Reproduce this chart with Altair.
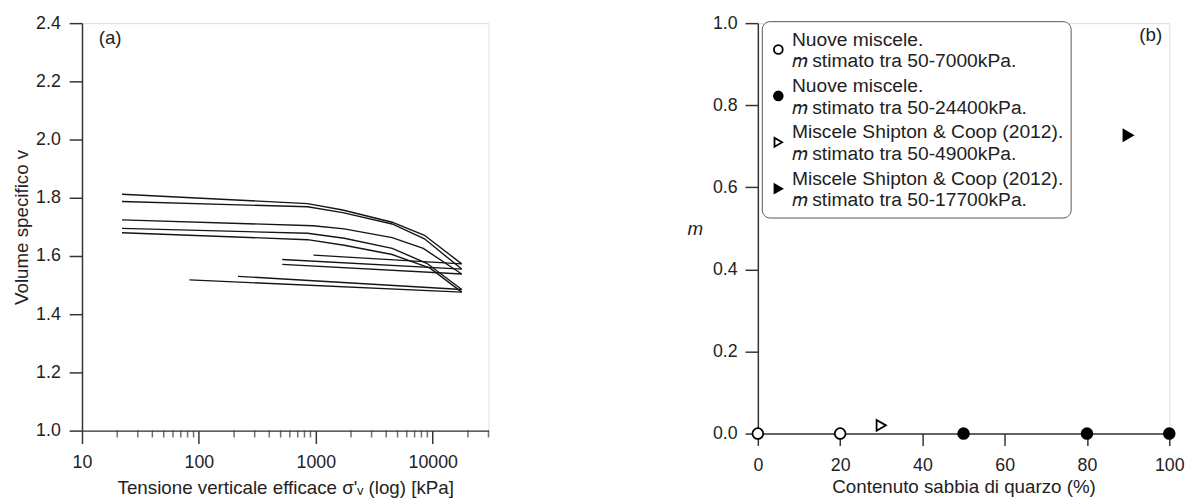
import altair as alt
import pandas as pd

FONT = "Liberation Sans"

# ---------------- Panel (a): compression curves ----------------
curve_A_sigma = [22, 850, 1700, 4500, 8500, 17700]
curve_A_v = [1.812, 1.780, 1.758, 1.716, 1.671, 1.573]
curve_B_sigma = [22, 850, 1700, 4500, 8500, 17700]
curve_B_v = [1.787, 1.769, 1.749, 1.710, 1.659, 1.555]
curve_C_sigma = [22, 950, 1750, 4500, 8300, 17700]
curve_C_v = [1.724, 1.704, 1.693, 1.663, 1.626, 1.538]
curve_D_sigma = [22, 850, 1750, 4500, 8900, 17700]
curve_D_v = [1.695, 1.678, 1.661, 1.626, 1.575, 1.485]
curve_E_sigma = [22, 850, 1750, 4500, 9500, 17700]
curve_E_v = [1.680, 1.656, 1.637, 1.605, 1.558, 1.476]
unload_F_sigma = [955, 17700]
unload_F_v = [1.603, 1.573]
unload_G_sigma = [516, 17700]
unload_G_v = [1.588, 1.555]
unload_H_sigma = [516, 17700]
unload_H_v = [1.571, 1.538]
unload_I_sigma = [216, 17700]
unload_I_v = [1.530, 1.485]
unload_J_sigma = [83, 17700]
unload_J_v = [1.518, 1.476]

curves = {
    "A": (curve_A_sigma, curve_A_v), "B": (curve_B_sigma, curve_B_v),
    "C": (curve_C_sigma, curve_C_v), "D": (curve_D_sigma, curve_D_v),
    "E": (curve_E_sigma, curve_E_v), "F": (unload_F_sigma, unload_F_v),
    "G": (unload_G_sigma, unload_G_v), "H": (unload_H_sigma, unload_H_v),
    "I": (unload_I_sigma, unload_I_v), "J": (unload_J_sigma, unload_J_v),
}
rows = []
for cid, (s_list, v_list) in curves.items():
    for i, (s, v) in enumerate(zip(s_list, v_list)):
        rows.append({"curve": cid, "i": i, "sigma": s, "v": v})
df_a = pd.DataFrame(rows)

major_ticks_a = [10, 100, 1000, 10000]
minor_ticks_a = [20, 30, 40, 50, 60, 70, 80, 90,
                 200, 300, 400, 500, 600, 700, 800, 900,
                 2000, 3000, 4000, 5000, 6000, 7000, 8000, 9000,
                 20000, 30000]
y_ticks_a = [1.0, 1.2, 1.4, 1.6, 1.8, 2.0, 2.2, 2.4]
label_a = ["(a)"]
label_a_pos = [17.4, 2.347]

# ---------------- Panel (b): m vs sand content ----------------
series_names = [
    "Nuove miscele.|𝑚 stimato tra 50-7000kPa.",
    "Nuove miscele.|𝑚 stimato tra 50-24400kPa.",
    "Miscele Shipton & Coop (2012).|𝑚 stimato tra 50-4900kPa.",
    "Miscele Shipton & Coop (2012).|𝑚 stimato tra 50-17700kPa.",
]
s1_x = [0, 20]
s1_m = [0.0, 0.0]
s2_x = [50, 80, 100]
s2_m = [0.0, 0.0, 0.0]
s3_x = [30]
s3_m = [0.02]
s4_x = [90]
s4_m = [0.727]
series_shapes = ["circle", "circle", "triangle-right", "triangle-right"]
series_fills = ["white", "black", "white", "black"]
series_strokes = ["black", "black", "black", "black"]
x_ticks_b = [0, 20, 40, 60, 80, 100]
y_ticks_b = [0.0, 0.2, 0.4, 0.6, 0.8, 1.0]
label_b = ["(b)"]
label_b_pos = [95.5, 0.971]

rows_b = []
for name, xs, ms in zip(series_names, [s1_x, s2_x, s3_x, s4_x], [s1_m, s2_m, s3_m, s4_m]):
    for x, m in zip(xs, ms):
        rows_b.append({"serie": name, "sabbia": x, "m": m})
df_b = pd.DataFrame(rows_b)

AX = "#333333"
FS = 19
axis_common = dict(
    labelFont=FONT, titleFont=FONT, labelFontSize=18, titleFontSize=FS,
    labelColor="#222222", titleColor="#222222", titleFontWeight="normal",
    domainColor=AX, tickColor=AX, domainWidth=1.5, tickWidth=1.5,
    grid=False, labelFlush=False,
)

# ----- panel (a) chart -----
xa = alt.X("sigma:Q", scale=alt.Scale(type="log", domain=[10, 30000], nice=False),
           axis=alt.Axis(values=major_ticks_a, format="d", tickSize=13, labelPadding=10,
                         title="Tensione verticale efficace σ'ᵥ (log) [kPa]",
                         titlePadding=8, **axis_common))
ya = alt.Y("v:Q", scale=alt.Scale(domain=[1.0, 2.4], nice=False, zero=False),
           axis=alt.Axis(values=y_ticks_a, format=".1f", tickSize=13, labelPadding=9,
                         title="Volume specifico v", titlePadding=4, **axis_common))

lines_a = alt.Chart(df_a).mark_line(color="#151515", strokeWidth=1.4).encode(
    x=xa, y=ya, detail="curve:N", order="i:Q"
)
minor_a = alt.Chart(pd.DataFrame({"t": minor_ticks_a})).mark_tick(
    orient="vertical", color=AX, thickness=1.5, size=7, yOffset=3.5
).encode(x=alt.X("t:Q"), y=alt.datum(1.0))
text_a = alt.Chart(pd.DataFrame({"lab": label_a, "sx": [label_a_pos[0]], "sy": [label_a_pos[1]]})).mark_text(
    font=FONT, fontSize=FS, color="#222222"
).encode(x="sx:Q", y="sy:Q", text="lab:N")

panel_a = alt.layer(lines_a, minor_a, text_a).properties(width=412, height=413)

# ----- panel (b) chart -----
xb = alt.X("sabbia:Q", scale=alt.Scale(domain=[0, 100], nice=False),
           axis=alt.Axis(values=x_ticks_b, tickSize=12, labelPadding=11,
                         title="Contenuto sabbia di quarzo (%)", titlePadding=4, **axis_common))
yb = alt.Y("m:Q", scale=alt.Scale(domain=[0, 1], nice=False),
           axis=alt.Axis(values=y_ticks_b, format=".1f", tickSize=13, labelPadding=8, title="m",
                         titleAngle=0, titleFontStyle="italic", titlePadding=18,
                         titleBaseline="middle", **axis_common))

legend_b = alt.Legend(
    title=" ", titleFontSize=1, titlePadding=11,
    orient="none", legendX=689, legendY=-2,
    labelExpr="split(datum.label, '|')", labelFont=FONT, labelFontSize=19.5,
    labelBaseline="bottom",
    labelColor="#222222", labelLimit=500, labelOffset=4,
    symbolSize=80, symbolStrokeWidth=1.8,
    strokeColor="#555555", cornerRadius=8, padding=7, fillColor="white",
    rowPadding=4,
)

points_b = alt.Chart(df_b).mark_point(size=120, strokeWidth=1.8, opacity=1, filled=False).encode(
    x=xb, y=yb,
    shape=alt.Shape("serie:N", scale=alt.Scale(domain=series_names, range=series_shapes), legend=legend_b),
    fill=alt.Fill("serie:N", scale=alt.Scale(domain=series_names, range=series_fills), legend=legend_b),
    stroke=alt.Stroke("serie:N", scale=alt.Scale(domain=series_names, range=series_strokes), legend=legend_b),
)
text_b = alt.Chart(pd.DataFrame({"lab": label_b, "sx": [label_b_pos[0]], "sy": [label_b_pos[1]]})).mark_text(
    font=FONT, fontSize=FS, color="#222222"
).encode(x="sx:Q", y="sy:Q", text="lab:N")

panel_b = alt.layer(points_b, text_b).properties(width=417, height=416)

chart = alt.hconcat(panel_a, panel_b, spacing=198).properties(
    padding={"left": 4, "top": 2, "right": 5, "bottom": 0}
).configure_view(stroke=None).configure(
    font=FONT, style={"guide-label": {"lineHeight": 22}}
)

chart.save("out.html", embed_options={"renderer": "svg", "actions": False})
